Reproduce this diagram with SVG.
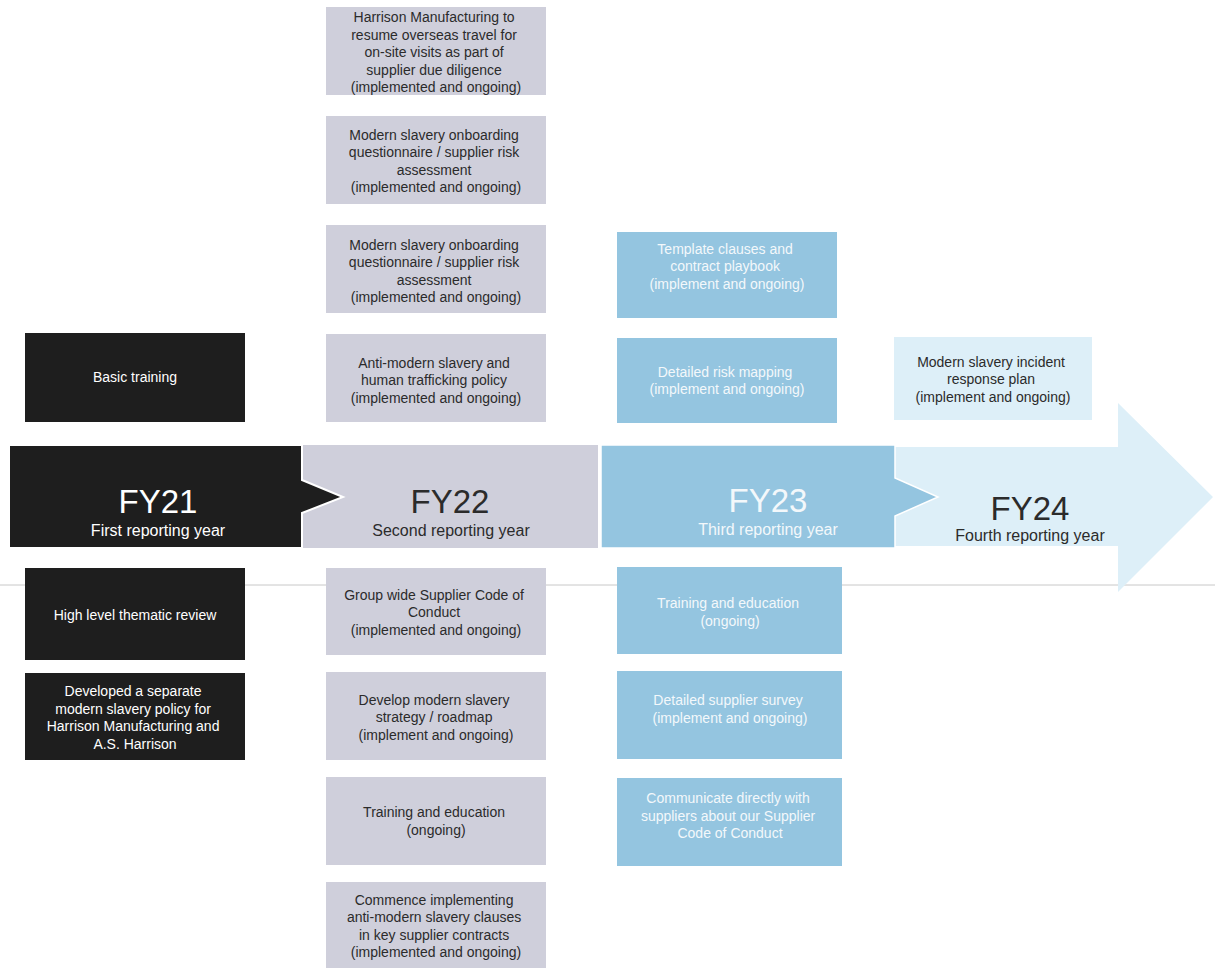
<svg xmlns="http://www.w3.org/2000/svg" width="1215" height="968" viewBox="0 0 1215 968">
<style>
  text { font-family: "Liberation Sans", Arial, sans-serif; text-anchor: middle; }
  .t { font-size: 14px; }
  .dark { fill: #2b2b2b; }
  .light { fill: #ffffff; }
  .soft { fill: #f3f8fb; }
  .blk { fill: #1e1e1e; }
  .gry { fill: #cfcfdb; }
  .blu { fill: #94c5e0; }
  .lbl { fill: #ddeff8; }
  .fy { font-size: 33px; }
  .sub { font-size: 16px; }
</style>
<rect x="0" y="0" width="1215" height="968" fill="#ffffff"/>
<line x1="0" y1="585" x2="1215" y2="585" stroke="#c8c8c8" stroke-width="1"/>

<g id="timeline">
  <g id="fy24-band">
    <polygon class="lbl" points="895,447 1118,447 1118,403 1213,497 1118,592 1118,546 895,546"/>
    <text class="fy dark" x="1030" y="520">FY24</text>
    <text class="sub dark" x="1030" y="541">Fourth reporting year</text>
  </g>
  <g id="fy23-band">
    <polygon class="blu" points="601,445 895,445 895,478 938,497 895,516 895,548 601,548" stroke="#ffffff" stroke-width="1.5"/>
    <text class="fy soft" x="768" y="512">FY23</text>
    <text class="sub soft" x="768" y="535">Third reporting year</text>
  </g>
  <g id="fy22-band">
    <rect class="gry" x="303" y="445" width="295" height="103"/>
    <text class="fy dark" x="450" y="513">FY22</text>
    <text class="sub dark" x="451" y="536">Second reporting year</text>
  </g>
  <g id="fy21-band">
    <polygon class="blk" points="9,445 302,445 302,480 343,497 302,513 302,548 9,548" stroke="#ffffff" stroke-width="2"/>
    <text class="fy light" x="158" y="513">FY21</text>
    <text class="sub light" x="158" y="536">First reporting year</text>
  </g>
</g>

<g id="connectors"></g>

<g id="fy21-basic-training">
  <rect class="blk" x="25" y="333" width="220" height="89"/>
  <text class="t light" x="135" y="382">Basic training</text>
</g>
<g id="fy21-thematic-review">
  <rect class="blk" x="25" y="568" width="220" height="92"/>
  <text class="t light" x="135" y="620">High level  thematic  review</text>
</g>
<g id="fy21-separate-policy">
  <rect class="blk" x="25" y="673" width="220" height="87"/>
  <text class="t light" x="135" y="696">
    <tspan x="135" dy="0">Developed  a separate</tspan>
    <tspan x="135" dy="17.5">modern slavery  policy for</tspan>
    <tspan x="135" dy="17.5">Harrison Manufacturing  and</tspan>
    <tspan x="135" dy="17.5">A.S. Harrison</tspan>
  </text>
</g>

<g id="fy22-overseas-travel">
  <rect class="gry" x="326" y="7" width="220" height="88"/>
  <text class="t dark" x="436" y="22">
    <tspan x="436" dy="0">Harrison Manufacturing to</tspan>
    <tspan x="436" dy="17.5">resume overseas travel for</tspan>
    <tspan x="436" dy="17.5">on-site visits as part of</tspan>
    <tspan x="436" dy="17.5">supplier due diligence</tspan>
    <tspan x="436" dy="17.5">(implemented  and  ongoing)</tspan>
  </text>
</g>
<g id="fy22-onboarding-1">
  <rect class="gry" x="326" y="116" width="220" height="88"/>
  <text class="t dark" x="436" y="139.5">
    <tspan x="436" dy="0">Modern slavery  onboarding</tspan>
    <tspan x="436" dy="17.5">questionnaire / supplier risk</tspan>
    <tspan x="436" dy="17.5">assessment</tspan>
    <tspan x="436" dy="17.5">(implemented  and  ongoing)</tspan>
  </text>
</g>
<g id="fy22-onboarding-2">
  <rect class="gry" x="326" y="225" width="220" height="88"/>
  <text class="t dark" x="436" y="249.5">
    <tspan x="436" dy="0">Modern slavery  onboarding</tspan>
    <tspan x="436" dy="17.5">questionnaire / supplier risk</tspan>
    <tspan x="436" dy="17.5">assessment</tspan>
    <tspan x="436" dy="17.5">(implemented  and  ongoing)</tspan>
  </text>
</g>
<g id="fy22-anti-slavery-policy">
  <rect class="gry" x="326" y="334" width="220" height="88"/>
  <text class="t dark" x="436" y="367.5">
    <tspan x="436" dy="0">Anti-modern  slavery  and</tspan>
    <tspan x="436" dy="17.5">human  trafficking policy</tspan>
    <tspan x="436" dy="17.5">(implemented  and  ongoing)</tspan>
  </text>
</g>
<g id="fy22-supplier-code">
  <rect class="gry" x="326" y="568" width="220" height="87"/>
  <text class="t dark" x="436" y="599.5">
    <tspan x="436" dy="0">Group wide Supplier Code of</tspan>
    <tspan x="436" dy="17.5">Conduct</tspan>
    <tspan x="436" dy="17.5">(implemented  and  ongoing)</tspan>
  </text>
</g>
<g id="fy22-strategy">
  <rect class="gry" x="326" y="672" width="220" height="88"/>
  <text class="t dark" x="436" y="704.5">
    <tspan x="436" dy="0">Develop  modern  slavery</tspan>
    <tspan x="436" dy="17.5">strategy / roadmap</tspan>
    <tspan x="436" dy="17.5">(implement  and ongoing)</tspan>
  </text>
</g>
<g id="fy22-training">
  <rect class="gry" x="326" y="777" width="220" height="88"/>
  <text class="t dark" x="436" y="817">
    <tspan x="436" dy="0">Training and education</tspan>
    <tspan x="436" dy="17.5">(ongoing)</tspan>
  </text>
</g>
<g id="fy22-clauses">
  <rect class="gry" x="326" y="882" width="220" height="86"/>
  <text class="t dark" x="436" y="904.5">
    <tspan x="436" dy="0">Commence  implementing</tspan>
    <tspan x="436" dy="17.5">anti-modern  slavery  clauses</tspan>
    <tspan x="436" dy="17.5">in key supplier  contracts</tspan>
    <tspan x="436" dy="17.5">(implemented  and  ongoing)</tspan>
  </text>
</g>

<g id="fy23-template-clauses">
  <rect class="blu" x="617" y="232" width="220" height="86"/>
  <text class="t soft" x="727" y="253.5">
    <tspan x="727" dy="0">Template  clauses  and</tspan>
    <tspan x="727" dy="17.5">contract playbook</tspan>
    <tspan x="727" dy="17.5">(implement  and  ongoing)</tspan>
  </text>
</g>
<g id="fy23-risk-mapping">
  <rect class="blu" x="617" y="338" width="220" height="85"/>
  <text class="t soft" x="727" y="376.5">
    <tspan x="727" dy="0">Detailed  risk mapping</tspan>
    <tspan x="727" dy="17.5">(implement  and  ongoing)</tspan>
  </text>
</g>
<g id="fy23-training">
  <rect class="blu" x="617" y="567" width="225" height="87"/>
  <text class="t soft" x="730" y="608">
    <tspan x="730" dy="0">Training and education</tspan>
    <tspan x="730" dy="17.5">(ongoing)</tspan>
  </text>
</g>
<g id="fy23-supplier-survey">
  <rect class="blu" x="617" y="671" width="225" height="88"/>
  <text class="t soft" x="730" y="705">
    <tspan x="730" dy="0">Detailed  supplier  survey</tspan>
    <tspan x="730" dy="17.5">(implement  and  ongoing)</tspan>
  </text>
</g>
<g id="fy23-communicate">
  <rect class="blu" x="617" y="778" width="225" height="88"/>
  <text class="t soft" x="730" y="803">
    <tspan x="730" dy="0">Communicate  directly with</tspan>
    <tspan x="730" dy="17.5">suppliers  about our Supplier</tspan>
    <tspan x="730" dy="17.5">Code of Conduct</tspan>
  </text>
</g>

<g id="fy24-incident-plan">
  <rect class="lbl" x="894" y="337" width="198" height="83"/>
  <text class="t dark" x="993" y="366.5">
    <tspan x="993" dy="0">Modern slavery  incident</tspan>
    <tspan x="993" dy="17.5">response  plan</tspan>
    <tspan x="993" dy="17.5">(implement  and  ongoing)</tspan>
  </text>
</g>
</svg>
